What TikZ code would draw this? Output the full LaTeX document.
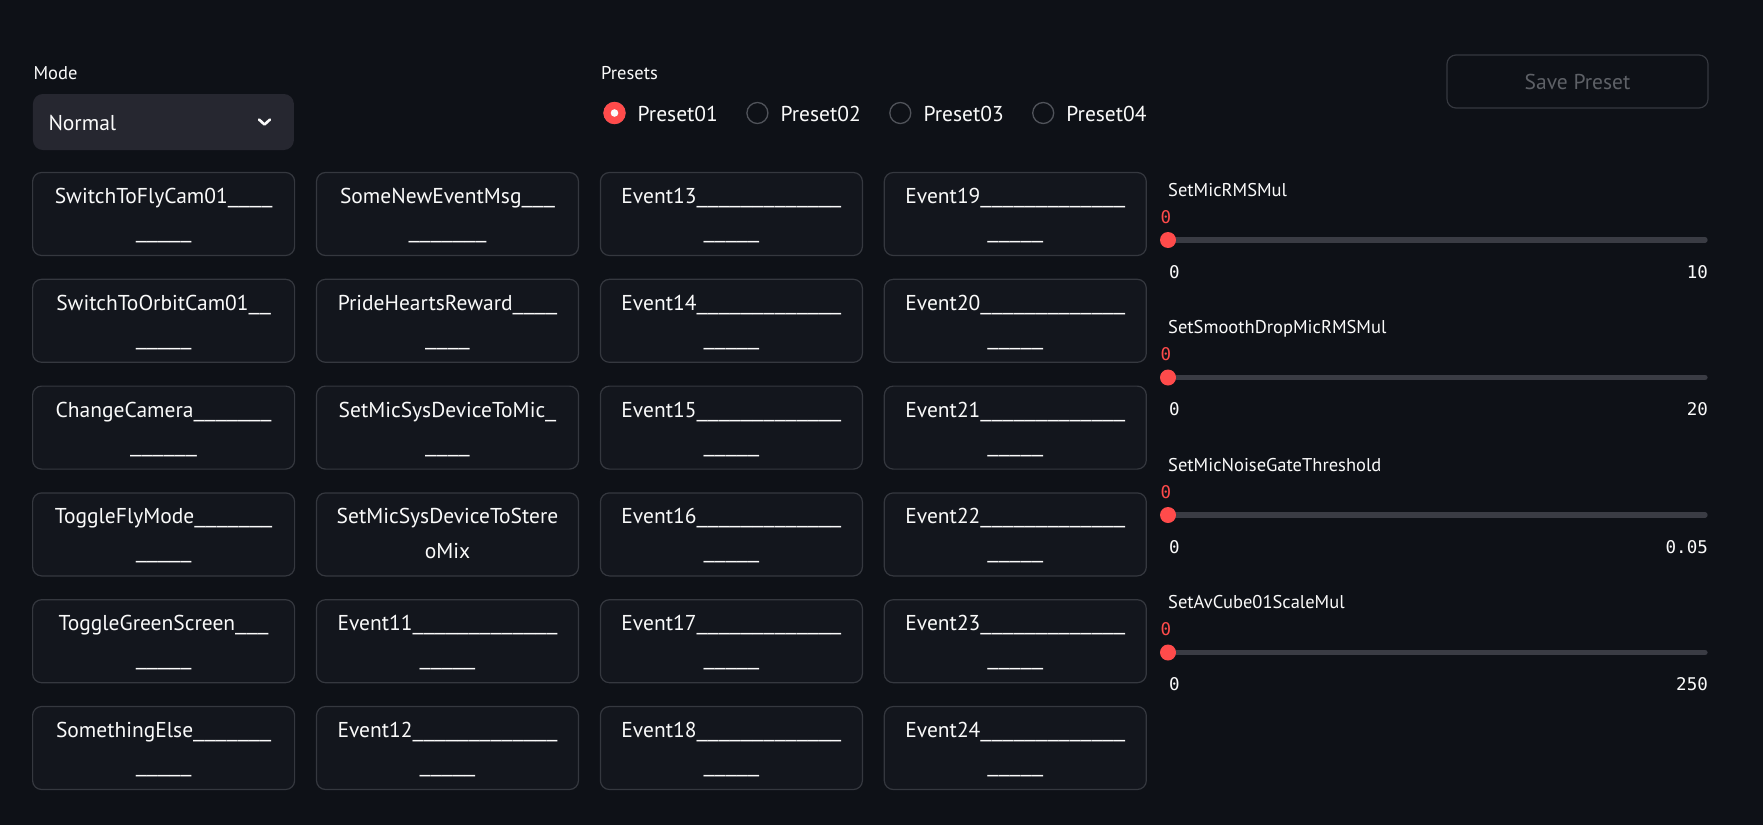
\documentclass[tikz,border=0pt]{standalone}
\usepackage{fontspec}
\setmainfont{PT Sans}
\newfontfamily\numfont{DejaVu Sans Mono}
\usepackage{graphicx}
\usepackage{tikz}
\usetikzlibrary{positioning}
\usepackage{xcolor}

\definecolor{bg}{HTML}{0E1117}
\definecolor{boxfill}{HTML}{13161D}
\definecolor{boxline}{HTML}{35383F}
\definecolor{selfill}{HTML}{262730}
\definecolor{accent}{HTML}{FF4B4B}
\definecolor{trackgray}{HTML}{3A3C44}
\definecolor{radline}{HTML}{50535A}
\definecolor{txt}{HTML}{FAFAFA}
\definecolor{dimtxt}{HTML}{5E6167}

\newcommand\ubars[1]{\foreach \k in {1,...,#1}{\scalebox{1.27}[1]{\_}}}

\tikzset{
  evbtn/.style={draw=boxline, fill=boxfill, line width=1.2pt, rounded corners=9pt,
    minimum width=262pt, minimum height=83pt, inner sep=0pt},
  btntxt/.style={text=txt, font=\fontsize{21.5}{25}\selectfont, anchor=base, inner sep=0pt},
  lbl/.style={text=txt, font=\fontsize{18.5}{22}\selectfont, anchor=base west, inner sep=0pt},
  num/.style={font=\numfont\fontsize{17.5}{20}\selectfont, inner sep=0pt},
  radio/.style={circle, draw=radline, line width=1.3pt, minimum size=21pt, inner sep=0pt}
}

\begin{document}
\begin{tikzpicture}[x=1pt, y=-1pt]
  % Background
  \fill[bg] (0,0) rectangle (1763,825);
  \useasboundingbox (0,0) rectangle (1763,825);

  % Mode select box
  \node[lbl] (modelbl) at (33.3,79) {Mode};
  \node[fill=selfill, rounded corners=10pt, minimum width=261pt, minimum height=56pt,
    inner sep=0pt] (modebox) at (163.4,122) {};
  \node[btntxt, anchor=base west] (modeval) at (48.3,130) {Normal};
  \draw[txt, line width=2.6pt, line cap=round, line join=round]
    (259,119.5) -- (264.5,124.5) -- (270,119.5);

  % Preset radio buttons
  \node[lbl] (presetlbl) at (601,79.3) {Presets};
  \foreach \k in {1,...,4} {
    \node[radio] (rad\k) at (614.5+142.9*\k-142.9,113) {};
    \node[btntxt, anchor=base west] (pre\k) at (637.5+142.9*\k-142.9,121) {Preset0\k};
  }
  \node[radio, draw=accent, fill=accent] at (rad1) {};
  \fill[txt] (rad1) circle (3.8);

  % Save button
  \node[draw=boxline, line width=1.2pt, rounded corners=9pt, minimum width=261pt,
    minimum height=53pt, inner sep=0pt, text=dimtxt, font=\fontsize{21.5}{25}\selectfont]
    (save) at (1577.5,81.5) {Save Preset};

  % Event buttons, named columns
  \foreach \c/\r/\la/\lb in {
      0/0/SwitchToFlyCam01\ubars{4}/\ubars{5},
      0/1/SwitchToOrbitCam01\ubars{2}/\ubars{5},
      0/2/ChangeCamera\ubars{7}/\ubars{6},
      0/3/ToggleFlyMode\ubars{7}/\ubars{5},
      0/4/ToggleGreenScreen\ubars{3}/\ubars{5},
      0/5/SomethingElse\ubars{7}/\ubars{5},
      1/0/SomeNewEventMsg\ubars{3}/\ubars{7},
      1/1/PrideHeartsReward\ubars{4}/\ubars{4},
      1/2/SetMicSysDeviceToMic\ubars{1}/\ubars{4},
      1/3/SetMicSysDeviceToStere/oMix,
      1/4/Event11\ubars{13}/\ubars{5},
      1/5/Event12\ubars{13}/\ubars{5}} {
    \node[evbtn] (b\c\r) at (163.6+283.9*\c, 214+106.8*\r) {};
    \node[btntxt] (b\c\r a) at ([yshift=-31.5pt]b\c\r.north) {\la};
    \node[btntxt] (b\c\r b) at ([yshift=-66.5pt]b\c\r.north) {\lb};
  }

  % Event buttons, numbered columns
  \foreach \c in {2,3} {
    \foreach \r in {0,...,5} {
      \pgfmathtruncatemacro\n{13+6*(\c-2)+\r}
      \node[evbtn] (b\c\r) at (163.6+283.9*\c, 214+106.8*\r) {};
      \node[btntxt] (b\c\r a) at ([yshift=-31.5pt]b\c\r.north) {Event\n\ubars{13}};
      \node[btntxt] (b\c\r b) at ([yshift=-66.5pt]b\c\r.north) {\ubars{5}};
    }
  }

  % Sliders
  \foreach \k/\name/\maxv in {0/SetMicRMSMul/10, 1/SetSmoothDropMicRMSMul/20,
      2/SetMicNoiseGateThreshold/0.05, 3/SetAvCube01ScaleMul/250} {
    \node[lbl] (sl\k) at (1168,196+137.5*\k) {\name};
    \node[num, text=accent] (cur\k) at (1166,216.7+137.5*\k) {0};
    \coordinate (tl\k) at (1168,240+137.5*\k);
    \coordinate (tr\k) at (1705,240+137.5*\k);
    \draw[trackgray, line width=5.3pt, line cap=round] (tl\k) -- (tr\k);
    \fill[accent] (tl\k) circle (8);
    \node[num, text=txt, anchor=base west] (lo\k) at (1169,278+137.5*\k) {0};
    \node[num, text=txt, anchor=base east] (hi\k) at (1708,278+137.5*\k) {\maxv};
  }
\end{tikzpicture}
\end{document}
